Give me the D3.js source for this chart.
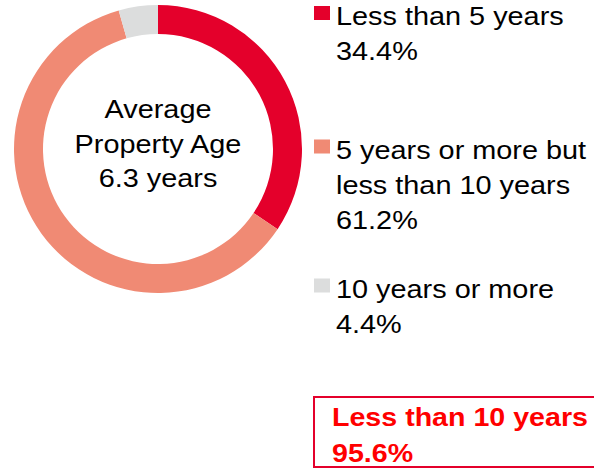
<!DOCTYPE html>
<html>
<head>
<meta charset="utf-8">
<script src="https://cdn.jsdelivr.net/npm/d3@7"></script>
<style>
  html, body { margin: 0; padding: 0; background: #fff; }
  svg { display: block; font-family: "Liberation Sans", Arial, sans-serif; }
</style>
</head>
<body>
<svg id="chart" width="594" height="469"></svg>
<script>
// data
const categories = ['Less than 5 years', '5 years or more but less than 10 years', '10 years or more'];
const shares = [34.4, 61.2, 4.4];
const legendLines = [
  ['Less than 5 years', '34.4%'],
  ['5 years or more but', 'less than 10 years', '61.2%'],
  ['10 years or more', '4.4%']
];
const centerLines = ['Average', 'Property Age', '6.3 years'];
const summaryLines = ['Less than 10 years', '95.6%'];

const colors = ['#e4002b', '#f08a74', '#dcdddd'];
const color = d3.scaleOrdinal().domain(categories).range(colors);

const svg = d3.select('#chart');
const data = categories.map((c, i) => ({cat: c, value: shares[i]}));
const sx = 1.11; // text in the source is a bit wide

// donut
const cx = 158, cy = 149, rOuter = 144, rInner = 115;
const g = svg.append('g').attr('transform', `translate(${cx},${cy})`);
const pie = d3.pie().value(d => d.value).sort(null);
const arc = d3.arc().innerRadius(rInner).outerRadius(rOuter);

g.selectAll('path.slice').data(pie(data)).join('path')
  .attr('class', 'slice')
  .attr('d', arc)
  .attr('fill', d => color(d.data.cat));

// center label
g.selectAll('text.center').data(centerLines).join('text')
  .attr('class', 'center')
  .attr('text-anchor', 'middle')
  .attr('transform', (d, i) => `translate(0,${-30.7 + i * 34.5}) scale(${sx},1)`)
  .style('font-size', '26px')
  .style('fill', '#000')
  .text(d => d);

// legend
const legendY = [25, 158.5, 297.5];
const lineH = 35;
const items = svg.append('g').selectAll('g.item').data(data).join('g')
  .attr('class', 'item')
  .attr('transform', (d, i) => `translate(314,${legendY[i]})`);

items.append('rect')
  .attr('x', 0).attr('y', -19)
  .attr('width', 16).attr('height', 14)
  .attr('fill', d => color(d.cat));

items.each(function(d, i){
  d3.select(this).selectAll('text').data(legendLines[i]).join('text')
    .attr('transform', (t, j) => `translate(22,${j * lineH}) scale(${sx},1)`)
    .style('font-size', '26px')
    .style('fill', '#000')
    .text(t => t);
});

// summary box
svg.append('rect')
  .attr('x', 314).attr('y', 397)
  .attr('width', 290).attr('height', 70)
  .attr('fill', 'none')
  .attr('stroke', '#e4002b')
  .attr('stroke-width', 2);

svg.selectAll('text.summary').data(summaryLines).join('text')
  .attr('class', 'summary')
  .attr('transform', (d, i) => `translate(332,${426 + i * 35.5}) scale(1.1,1)`)
  .style('font-size', '26px')
  .style('font-weight', 'bold')
  .style('fill', '#ff0000')
  .text(d => d);
</script>
</body>
</html>
